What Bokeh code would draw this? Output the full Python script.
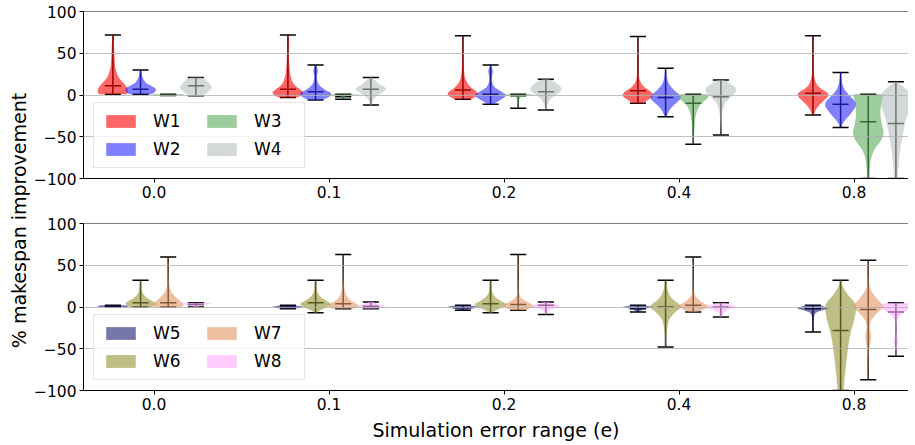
import numpy as np
from bokeh.plotting import figure
from bokeh.models import Legend, LegendItem, Span, FixedTicker, Label, Range1d
from bokeh.layouts import row, column
from bokeh.embed import file_html
from bokeh.resources import INLINE

# ---------------- data ----------------
errors = ["0.0", "0.1", "0.2", "0.4", "0.8"]
y_ticks = [-100, -50, 0, 50, 100]
y_tick_labels = ["\u2212100", "\u221250", "0", "50", "100"]

top_names = ["W1", "W2", "W3", "W4"]
bottom_names = ["W5", "W6", "W7", "W8"]

# whisker extremes and medians per error range
w1_min = [1, -3, -5, -10, -24]
w1_max = [72, 72, 71, 70, 71]
w1_med = [11, 7, 6, 5, 2]
w2_min = [1, -6, -11, -26, -39]
w2_max = [30, 36, 36, 32, 27]
w2_med = [7, 4, 1, -3, -11]
w3_min = [-0.6, -5, -16, -59, -100]
w3_max = [1, 1, 1, 1, 1]
w3_med = [0.2, -2, -1, -10, -32]
w4_min = [-1, -12, -18, -48, -100]
w4_max = [21, 21, 19, 18, 16]
w4_med = [11, 7, 4, -2, -34]

w5_min = [0, -2, -4, -6, -30]
w5_max = [2, 2, 2, 2, 2]
w5_med = [1, 0, -1, -2, -2]
w6_min = [0, -7, -7, -48, -100]
w6_max = [32, 32, 32, 32, 32]
w6_med = [5, 5, 4, 0, -28]
w7_min = [0, -2, -4, -6, -87]
w7_max = [60, 63, 63, 60, 56]
w7_med = [5, 4, 3, 2, -3]
w8_min = [0, -2, -9, -12, -59]
w8_max = [5, 6, 6, 5, 5]
w8_med = [3, 1, 2, 0, -6]

# violin profiles: (value, relative width)
w1_shape = [
    [(1, 0.9), (4, 1.0), (8, 0.95), (12, 0.8), (16, 0.6), (20, 0.42), (24, 0.3), (30, 0.2), (36, 0.14), (48, 0.1), (60, 0.07), (72, 0.04)],
    [(-3, 0.6), (0, 0.9), (3, 1.0), (6, 0.85), (10, 0.55), (14, 0.35), (20, 0.22), (28, 0.13), (40, 0.08), (55, 0.05), (65, 0.06), (72, 0.03)],
    [(-5, 0.55), (-2, 0.85), (1, 1.0), (4, 0.9), (8, 0.6), (12, 0.38), (17, 0.22), (25, 0.1), (40, 0.05), (55, 0.03), (71, 0.02)],
    [(-10, 0.35), (-6, 0.65), (-3, 0.9), (0, 1.0), (3, 0.9), (6, 0.7), (9, 0.45), (13, 0.25), (18, 0.12), (25, 0.06), (40, 0.04), (60, 0.03), (70, 0.02)],
    [(-24, 0.05), (-18, 0.18), (-12, 0.42), (-6, 0.75), (-2, 0.95), (1, 1.0), (4, 0.85), (8, 0.5), (12, 0.28), (18, 0.14), (26, 0.06), (40, 0.04), (60, 0.03), (71, 0.02)],
]
w2_shape = [
    [(1, 0.75), (4, 0.95), (7, 1.0), (10, 0.8), (14, 0.4), (18, 0.22), (22, 0.12), (27, 0.07), (30, 0.04)],
    [(-6, 0.4), (-3, 0.8), (0, 1.0), (3, 0.95), (6, 0.65), (10, 0.35), (15, 0.15), (22, 0.08), (28, 0.15), (31, 0.12), (36, 0.03)],
    [(-11, 0.2), (-7, 0.55), (-3, 0.9), (0, 1.0), (3, 0.8), (7, 0.45), (11, 0.2), (18, 0.08), (25, 0.12), (29, 0.15), (33, 0.08), (36, 0.03)],
    [(-26, 0.05), (-22, 0.15), (-17, 0.3), (-12, 0.55), (-7, 0.85), (-3, 1.0), (1, 0.85), (5, 0.6), (10, 0.35), (15, 0.18), (22, 0.08), (28, 0.05), (32, 0.02)],
    [(-39, 0.04), (-35, 0.12), (-30, 0.3), (-25, 0.55), (-19, 0.8), (-13, 1.0), (-8, 0.95), (-3, 0.7), (2, 0.45), (7, 0.25), (13, 0.12), (20, 0.06), (27, 0.03)],
]
w3_shape = [
    [(-0.6, 0.9), (0, 1.0), (0.6, 1.0), (1, 0.9)],
    [(-5, 0.05), (-3, 0.08), (-1, 0.3), (0, 1.0), (0.5, 0.9), (1, 0.3)],
    [(-16, 0.03), (-8, 0.05), (-3, 0.15), (-1, 0.5), (0, 1.0), (0.6, 0.9), (1, 0.3)],
    [(-59, 0.03), (-50, 0.05), (-40, 0.08), (-30, 0.12), (-22, 0.2), (-16, 0.32), (-11, 0.5), (-6, 0.8), (-2, 1.0), (1, 0.95)],
    [(-100, 0.08), (-90, 0.1), (-80, 0.15), (-72, 0.25), (-65, 0.42), (-58, 0.7), (-52, 0.9), (-45, 1.0), (-38, 0.92), (-28, 0.82), (-18, 0.8), (-8, 0.88), (-2, 0.95), (1, 0.95)],
]
w4_shape = [
    [(-1, 0.4), (2, 0.7), (5, 0.85), (8, 1.0), (11, 1.0), (14, 0.85), (18, 0.65), (21, 0.4)],
    [(-12, 0.05), (-6, 0.15), (-2, 0.35), (2, 0.65), (5, 0.9), (7, 1.0), (10, 0.85), (13, 0.55), (17, 0.3), (21, 0.08)],
    [(-18, 0.04), (-12, 0.1), (-6, 0.25), (-2, 0.5), (2, 0.8), (6, 1.0), (10, 0.95), (14, 0.7), (17, 0.45), (19, 0.15)],
    [(-48, 0.02), (-38, 0.04), (-28, 0.06), (-18, 0.12), (-10, 0.28), (-5, 0.5), (0, 0.8), (5, 1.0), (9, 0.95), (13, 0.65), (16, 0.4), (18, 0.2)],
    [(-100, 0.12), (-90, 0.15), (-75, 0.22), (-60, 0.33), (-45, 0.48), (-32, 0.62), (-22, 0.8), (-14, 0.95), (-6, 1.0), (2, 0.9), (8, 0.6), (12, 0.35), (16, 0.1)],
]
w5_shape = [
    [(0, 0.9), (1, 1.0), (2, 0.8)],
    [(-2, 0.4), (-1, 0.8), (0, 1.0), (1, 0.8), (2, 0.4)],
    [(-4, 0.2), (-2, 0.6), (0, 1.0), (1, 0.8), (2, 0.4)],
    [(-6, 0.1), (-3, 0.35), (-1, 0.8), (0, 1.0), (1, 0.7), (2, 0.3)],
    [(-30, 0.02), (-20, 0.03), (-12, 0.06), (-7, 0.2), (-4, 0.6), (-2, 1.0), (0, 0.85), (2, 0.4)],
]
w6_shape = [
    [(0, 0.75), (2, 0.9), (4, 1.0), (7, 0.8), (10, 0.5), (14, 0.25), (18, 0.12), (24, 0.06), (32, 0.03)],
    [(-7, 0.08), (-4, 0.3), (-1, 0.65), (2, 0.95), (4, 1.0), (7, 0.75), (11, 0.4), (15, 0.2), (20, 0.1), (26, 0.06), (32, 0.03)],
    [(-7, 0.1), (-4, 0.35), (-1, 0.7), (2, 1.0), (4, 1.0), (7, 0.7), (11, 0.38), (15, 0.18), (20, 0.09), (26, 0.05), (32, 0.02)],
    [(-48, 0.02), (-38, 0.04), (-28, 0.08), (-18, 0.18), (-12, 0.35), (-6, 0.65), (-2, 0.92), (1, 1.0), (4, 0.85), (8, 0.55), (12, 0.35), (17, 0.2), (23, 0.1), (28, 0.08), (32, 0.04)],
    [(-100, 0.2), (-88, 0.25), (-75, 0.32), (-62, 0.4), (-50, 0.48), (-38, 0.58), (-28, 0.7), (-18, 0.85), (-8, 0.97), (0, 1.0), (6, 0.88), (11, 0.65), (16, 0.42), (22, 0.22), (27, 0.1), (32, 0.05)],
]
w7_shape = [
    [(0, 0.9), (3, 1.0), (6, 0.85), (10, 0.6), (14, 0.38), (18, 0.22), (23, 0.12), (30, 0.06), (40, 0.04), (50, 0.03), (60, 0.02)],
    [(-2, 0.7), (1, 1.0), (4, 0.85), (7, 0.55), (11, 0.32), (15, 0.18), (20, 0.1), (28, 0.05), (40, 0.03), (63, 0.02)],
    [(-4, 0.4), (-1, 0.85), (1, 1.0), (4, 0.8), (7, 0.5), (10, 0.25), (14, 0.1), (20, 0.05), (35, 0.03), (63, 0.02)],
    [(-6, 0.25), (-3, 0.65), (0, 1.0), (3, 0.85), (6, 0.55), (10, 0.3), (14, 0.12), (20, 0.05), (35, 0.03), (60, 0.02)],
    [(-87, 0.02), (-70, 0.03), (-55, 0.05), (-45, 0.12), (-38, 0.18), (-32, 0.17), (-25, 0.1), (-18, 0.15), (-12, 0.35), (-6, 0.65), (-2, 0.9), (1, 1.0), (5, 0.82), (9, 0.62), (13, 0.45), (18, 0.25), (24, 0.1), (32, 0.05), (45, 0.03), (56, 0.02)],
]
w8_shape = [
    [(0, 0.15), (2, 0.35), (4, 1.0), (5, 0.9)],
    [(-2, 0.35), (0, 1.0), (2, 0.7), (4, 0.35), (6, 0.15)],
    [(-9, 0.05), (-5, 0.15), (-2, 0.45), (0, 1.0), (2, 0.8), (4, 0.4), (6, 0.15)],
    [(-12, 0.05), (-8, 0.15), (-4, 0.4), (-1, 0.9), (0, 1.0), (2, 0.75), (4, 0.4), (5, 0.25)],
    [(-59, 0.03), (-50, 0.05), (-44, 0.12), (-40, 0.14), (-35, 0.08), (-25, 0.05), (-15, 0.12), (-9, 0.35), (-5, 0.65), (-2, 0.92), (0, 1.0), (3, 0.9), (5, 0.7)],
]

top_colors = ["#ff0000", "#2b2bff", "#5caa5c", "#b6bebe"]
bottom_colors = ["#1b1b6e", "#949434", "#e19664", "#ffaaff"]

# ---------------- styling ----------------
FONT = "DejaVu Sans"
OFFSETS = [-0.235, -0.077, 0.081, 0.239]
VIOLIN_W = 0.175
CAP_W = 0.092
TICK_FS = "15.5px"
LABEL_FS = "19px"


def smooth(prof, n=6):
    pts = np.array(prof, dtype=float)
    if len(pts) < 3:
        return pts
    P = np.vstack([pts[0], pts, pts[-1]])
    t = np.linspace(0, 1, n, endpoint=False)[:, None]
    out = []
    for i in range(1, len(P) - 2):
        p0, p1, p2, p3 = P[i - 1], P[i], P[i + 1], P[i + 2]
        seg = 0.5 * (2 * p1 + (-p0 + p2) * t + (2 * p0 - 5 * p1 + 4 * p2 - p3) * t ** 2
                     + (-p0 + 3 * p1 - 3 * p2 + p3) * t ** 3)
        out.append(seg)
    out.append(pts[-1:])
    res = np.vstack(out)
    res[:, 1] = np.clip(res[:, 1], 0.01, None)
    res[:, 0] = np.clip(res[:, 0], pts[0, 0], pts[-1, 0])
    return res


def make_panel(names, colors, mins, maxs, meds, shapes, border_top, border_bottom, xlabel=None):
    p = figure(frame_width=825, frame_height=167,
               x_range=Range1d(-0.403, 4.311), y_range=Range1d(-100, 100),
               output_backend="svg", toolbar_location=None,
               min_border_left=52, min_border_right=0,
               min_border_top=border_top, min_border_bottom=border_bottom)
    p.outline_line_color = None
    p.background_fill_color = "white"
    p.border_fill_color = "white"

    # whiskers and caps
    for k in range(len(names)):
        x0, y0, x1, y1 = [], [], [], []
        for g in range(len(errors)):
            c = g + OFFSETS[k]
            x0.append(c); y0.append(mins[k][g]); x1.append(c); y1.append(maxs[k][g])
            for v in (mins[k][g], maxs[k][g], meds[k][g]):
                x0.append(c - CAP_W / 2); x1.append(c + CAP_W / 2)
                y0.append(v); y1.append(v)
        p.segment(x0, y0, x1, y1, line_color="black", line_width=1.5)

    # violin bodies
    renderers = []
    for k in range(len(names)):
        xs, ys = [], []
        for g in range(len(errors)):
            c = g + OFFSETS[k]
            s = smooth(shapes[k][g])
            yy = s[:, 0]
            hw = s[:, 1] * VIOLIN_W / 2
            xs.append(list(np.concatenate([c + hw, (c - hw)[::-1]])))
            ys.append(list(np.concatenate([yy, yy[::-1]])))
        r = p.patches(xs, ys, fill_color=colors[k], fill_alpha=0.6, line_color=None)
        renderers.append(r)

    # axes
    p.yaxis.ticker = FixedTicker(ticks=y_ticks)
    p.yaxis.major_label_overrides = {t: l for t, l in zip(y_ticks, y_tick_labels)}
    p.xaxis.ticker = FixedTicker(ticks=list(range(len(errors))))
    p.xaxis.major_label_overrides = {i: e for i, e in enumerate(errors)}
    for ax in (p.xaxis, p.yaxis):
        ax.minor_tick_line_color = None
        ax.major_tick_in = 0
        ax.major_tick_out = 4
        ax.major_tick_line_color = "black"
        ax.axis_line_color = "black"
        ax.axis_line_width = 1
        ax.major_label_text_font = FONT
        ax.major_label_text_font_size = TICK_FS
        ax.major_label_text_color = "black"
        ax.major_label_standoff = 3
    p.xgrid.visible = False
    p.ygrid.ticker = FixedTicker(ticks=[-50, 0, 50])
    p.ygrid.grid_line_color = "#b0b0b0"
    p.ygrid.grid_line_alpha = 0.8
    p.ygrid.grid_line_width = 1
    p.ygrid.level = "overlay"

    p.add_layout(Span(location=100, dimension="width", line_color="black", line_width=1))

    if xlabel:
        p.xaxis.axis_label = xlabel
        p.xaxis.axis_label_text_font = FONT
        p.xaxis.axis_label_text_font_size = LABEL_FS
        p.xaxis.axis_label_text_font_style = "normal"
        p.xaxis.axis_label_text_color = "black"
        p.xaxis.axis_label_standoff = 6

    legend = Legend(items=[LegendItem(label=n, renderers=[r]) for n, r in zip(names, renderers)],
                    location=(10, 10), orientation="vertical", nrows=2)
    legend.label_text_font = FONT
    legend.label_text_font_size = "17px"
    legend.label_text_color = "black"
    legend.glyph_width = 37
    legend.glyph_height = 16
    legend.label_standoff = 14
    legend.label_width = 42
    legend.spacing = 8
    legend.padding = 8
    legend.margin = 0
    legend.border_line_color = "#cccccc"
    legend.border_line_width = 1
    legend.background_fill_alpha = 0.8
    p.add_layout(legend)
    return p


top = make_panel(top_names, top_colors,
                 [w1_min, w2_min, w3_min, w4_min], [w1_max, w2_max, w3_max, w4_max],
                 [w1_med, w2_med, w3_med, w4_med], [w1_shape, w2_shape, w3_shape, w4_shape],
                 border_top=11, border_bottom=34)
bottom = make_panel(bottom_names, bottom_colors,
                    [w5_min, w6_min, w7_min, w8_min], [w5_max, w6_max, w7_max, w8_max],
                    [w5_med, w6_med, w7_med, w8_med], [w5_shape, w6_shape, w7_shape, w8_shape],
                    border_top=11, border_bottom=50, xlabel="Simulation error range (e)")

LAB_H = 440
lab = figure(width=30, height=LAB_H, output_backend="svg", toolbar_location=None,
             x_axis_type=None, y_axis_type=None, min_border=0,
             x_range=Range1d(0, 1), y_range=Range1d(0, 1))
lab.outline_line_color = None
lab.add_layout(Label(x=18.5, y=LAB_H - 220, x_units="screen", y_units="screen",
                     text="% makespan improvement", angle=np.pi / 2,
                     text_align="center", text_baseline="middle",
                     text_font=FONT, text_font_size=LABEL_FS, text_color="black"))

layout = row(lab, column(top, bottom))
open("out.html", "w").write(file_html(layout, INLINE))
